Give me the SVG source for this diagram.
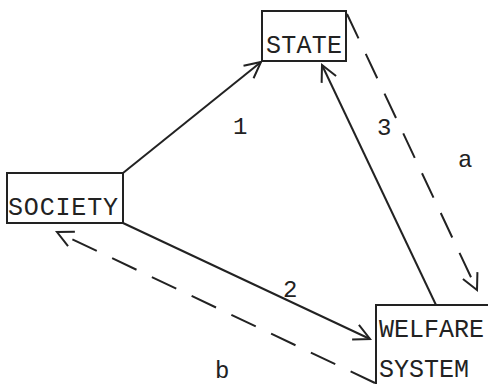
<svg xmlns="http://www.w3.org/2000/svg" width="488" height="384" viewBox="0 0 488 384">
<style>
.box{fill:none;stroke:#222;stroke-width:2}
.t{font-family:"Liberation Mono","DejaVu Sans Mono",monospace;font-size:25px;fill:#222}
.l{font-family:"Liberation Mono","DejaVu Sans Mono",monospace;font-size:24px;fill:#222}
.c{fill:none;stroke:#222;stroke-width:2}
.d{stroke-dasharray:27 17}
</style>
<defs>
<marker id="ah" viewBox="0 0 20 20" refX="18" refY="10" markerWidth="20" markerHeight="20" markerUnits="userSpaceOnUse" orient="auto">
<path d="M2 2 L18 10 L2 18" fill="none" stroke="#222" stroke-width="2"/>
</marker>
</defs>
<rect width="488" height="384" fill="#fff"/>
<g id="connectors">
<line class="c" x1="123" y1="173" x2="261" y2="62" marker-end="url(#ah)"/>
<line class="c" x1="436" y1="305" x2="322" y2="65" marker-end="url(#ah)"/>
<line class="c d" x1="347" y1="14" x2="477" y2="290" marker-end="url(#ah)"/>
<line class="c" x1="123" y1="223" x2="370" y2="339" marker-end="url(#ah)"/>
<line class="c d" x1="375" y1="383" x2="57" y2="232" marker-end="url(#ah)"/>
<text class="l" x="233" y="134">1</text>
<text class="l" x="283" y="297">2</text>
<text class="l" x="377" y="135">3</text>
<text class="l" x="458" y="167">a</text>
<text class="l" x="215" y="378">b</text>
</g>
<g id="state">
<rect class="box" x="262" y="11" width="84" height="50"/>
<text class="t" x="266" y="53" textLength="76">STATE</text>
</g>
<g id="society">
<rect class="box" x="7" y="173" width="116" height="50"/>
<text class="t" x="8" y="215" textLength="110">SOCIETY</text>
</g>
<g id="welfare">
<path class="box" d="M376 384 V305 H490"/>
<text class="t" x="379" y="337">WELFARE</text>
<text class="t" x="379" y="377">SYSTEM</text>
</g>
</svg>
